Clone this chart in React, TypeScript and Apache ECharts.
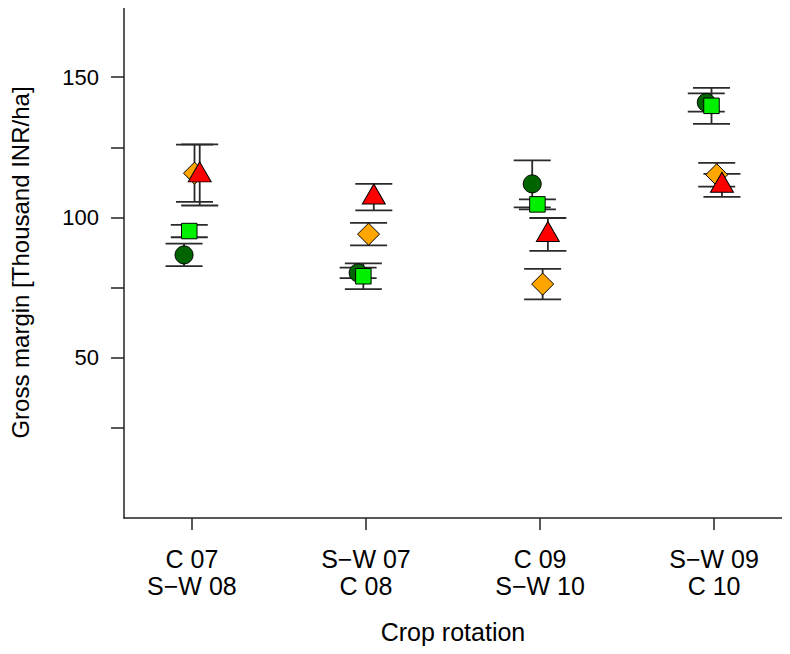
import React, { useEffect, useRef } from "react";
import * as echarts from "echarts";

const categories = ["C 07\nS−W 08", "S−W 07\nC 08", "C 09\nS−W 10", "S−W 09\nC 10"];
const seriesNames = ["Series 1", "Series 2", "Series 3", "Series 4"];
const circleMean = [86.7, 80.3, 112.0, 141.0];
const circleSE = [4.0, 1.9, 8.4, 3.25];
const squareMean = [95.2, 79.1, 104.7, 139.8];
const squareSE = [2.2, 4.6, 1.8, 6.4];
const diamondMean = [115.8, 94.1, 76.3, 115.25];
const diamondSE = [10.2, 4.0, 5.4, 4.25];
const triangleMean = [115.2, 107.3, 94.0, 111.5];
const triangleSE = [10.9, 4.7, 5.85, 4.1];
const yTicks = [25, 50, 75, 100, 125, 150, 175];
const yLabels = [50, 100, 150];

const FONT = "'Liberation Sans', Arial, Helvetica, sans-serif";

export default function App() {
  const ref = useRef<HTMLDivElement>(null);
  useEffect(() => {
    if (!ref.current) return;
    const chart = echarts.init(ref.current, null, { renderer: "svg" });
    const groups = [
      { mean: circleMean, se: circleSE, off: -0.045, symbol: "circle", size: 18, color: "#006400", offY: 0 },
      { mean: squareMean, se: squareSE, off: -0.015, symbol: "rect", size: 15.5, color: "#00f000", offY: 0 },
      { mean: diamondMean, se: diamondSE, off: 0.015, symbol: "diamond", size: 22, color: "#FFA500", offY: 0 },
      { mean: triangleMean, se: triangleSE, off: 0.045, symbol: "triangle", size: [23, 20], color: "#FF0000", offY: -3 },
    ];
    const errSeries = groups.map((g, gi) => ({
      type: "custom",
      name: seriesNames[gi] + " SE",
      z: 2,
      data: g.mean.map((m, i) => [i + 1 + g.off, m - g.se[i], m + g.se[i]]),
      encode: { x: 0, y: [1, 2] },
      renderItem: (params: any, api: any) => {
        const x = api.value(0);
        const lo = api.coord([x, api.value(1)]);
        const hi = api.coord([x, api.value(2)]);
        const w = 18.5;
        const style = { stroke: "#2a2a2a", lineWidth: 1.8 };
        return {
          type: "group",
          children: [
            { type: "line", shape: { x1: lo[0], y1: lo[1], x2: hi[0], y2: hi[1] }, style },
            { type: "line", shape: { x1: lo[0] - w, y1: lo[1], x2: lo[0] + w, y2: lo[1] }, style },
            { type: "line", shape: { x1: hi[0] - w, y1: hi[1], x2: hi[0] + w, y2: hi[1] }, style },
          ],
        };
      },
    }));
    const ptSeries = groups.map((g, gi) => ({
      type: "scatter",
      name: seriesNames[gi],
      z: 3 + gi,
      symbol: g.symbol,
      symbolSize: g.size,
      symbolOffset: [0, g.offY],
      itemStyle: { color: g.color, borderColor: "#000", borderWidth: 1, opacity: 1 },
      data: g.mean.map((m, i) => [i + 1 + g.off, m]),
    }));
    chart.setOption({
      animation: false,
      textStyle: { fontFamily: FONT },
      grid: { left: 123, right: 8, top: 7, bottom: 136 },
      xAxis: {
        type: "value",
        min: 0.61,
        max: 4.39,
        splitLine: { show: false },
        axisLine: { onZero: false, lineStyle: { color: "#222", width: 1.5 } },
        axisTick: { show: true, length: 12, customValues: [1, 2, 3, 4], lineStyle: { color: "#222", width: 1.5 } },
        axisLabel: {
          customValues: [1, 2, 3, 4],
          formatter: (v: number) => categories[Math.round(v) - 1],
          fontSize: 25,
          lineHeight: 27,
          color: "#000",
          margin: 27,
          fontFamily: FONT,
        },
        name: "Crop rotation",
        nameLocation: "middle",
        nameGap: 101,
        nameTextStyle: { fontSize: 25, color: "#000", fontFamily: FONT },
      },
      yAxis: {
        type: "value",
        min: -7,
        max: 175,
        splitLine: { show: false },
        axisLine: { show: true, onZero: false, lineStyle: { color: "#222", width: 1.5 } },
        axisTick: { show: true, length: 13, customValues: yTicks, lineStyle: { color: "#222", width: 1.5 } },
        axisLabel: {
          customValues: yLabels,
          fontSize: 22,
          color: "#000",
          margin: 25,
          fontFamily: FONT,
        },
        name: "Gross margin [Thousand INR/ha]",
        nameLocation: "middle",
        nameGap: 92,
        nameTextStyle: { fontSize: 24, color: "#000", fontFamily: FONT },
      },
      series: [...errSeries, ...ptSeries],
    });
    return () => chart.dispose();
  }, []);
  return <div ref={ref} style={{ width: 790, height: 654, margin: -8 }} />;
}
